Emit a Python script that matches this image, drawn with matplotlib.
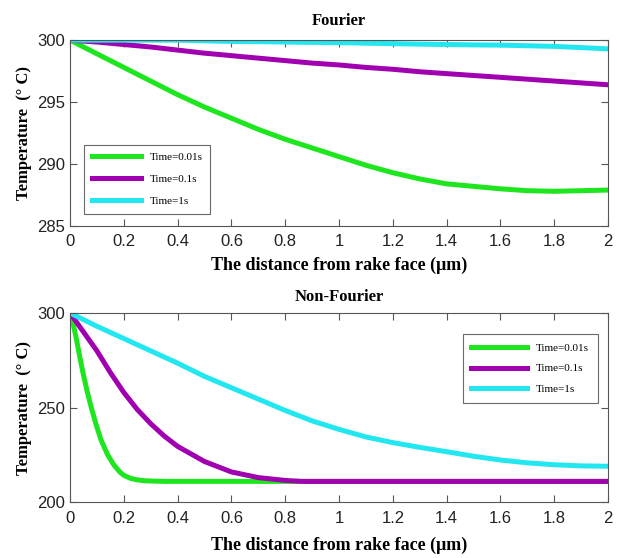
import numpy as np
import matplotlib.pyplot as plt

# Fourier model (top panel)
x_top = [0, 0.1, 0.2, 0.3, 0.4, 0.5, 0.6, 0.7, 0.8, 0.9, 1.0, 1.1, 1.2, 1.3, 1.4, 1.5, 1.6, 1.7, 1.8, 1.9, 2.0]
four_001 = [300, 298.9, 297.8, 296.7, 295.6, 294.6, 293.7, 292.8, 292.0, 291.3, 290.6, 289.9, 289.3, 288.8, 288.4, 288.2, 288.0, 287.85, 287.8, 287.85, 287.9]
four_01 = [300, 299.85, 299.65, 299.45, 299.2, 298.95, 298.75, 298.55, 298.35, 298.15, 298.0, 297.8, 297.65, 297.45, 297.3, 297.15, 297.0, 296.85, 296.7, 296.55, 296.4]
four_1 = [300, 300, 300, 300, 300, 299.95, 299.9, 299.88, 299.85, 299.82, 299.8, 299.76, 299.72, 299.68, 299.65, 299.62, 299.6, 299.55, 299.5, 299.4, 299.3]

# Non-Fourier model (bottom panel)
x_nf_001 = [0, 0.012, 0.024, 0.036, 0.048, 0.063, 0.079, 0.097, 0.115, 0.14, 0.164, 0.185, 0.2, 0.225, 0.25, 0.28, 0.35, 0.5, 1.0, 1.5, 2.0]
nf_001 = [300, 294, 286, 277, 268.5, 259, 250, 241, 233, 225, 219.5, 216, 214.2, 212.6, 211.8, 211.3, 211, 211, 211, 211, 211]
x_nf_01 = [0, 0.05, 0.1, 0.15, 0.2, 0.25, 0.3, 0.35, 0.4, 0.5, 0.6, 0.7, 0.8, 0.86, 1.0, 1.5, 2.0]
nf_01 = [300, 290, 280, 268.5, 258, 249, 241.5, 235, 229.5, 221.5, 216, 213, 211.5, 211, 211, 211, 211]
x_nf_1 = [0, 0.1, 0.2, 0.3, 0.4, 0.5, 0.6, 0.7, 0.8, 0.9, 1.0, 1.1, 1.2, 1.3, 1.4, 1.5, 1.6, 1.7, 1.8, 1.9, 2.0]
nf_1 = [300, 293, 286.5, 280, 273.5, 266.5, 260.5, 254.5, 248.5, 243, 238.5, 234.5, 231.5, 229, 226.7, 224.3, 222.3, 220.8, 219.8, 219.2, 219]

labels = ['Time=0.01s', 'Time=0.1s', 'Time=1s']
colors = ['#1ee61e', '#a000b0', '#22e6f0']

serif = 'Liberation Serif'
plt.rcParams['font.family'] = 'Liberation Sans'

fig = plt.figure(figsize=(6.17, 5.58), dpi=100)
ax1 = fig.add_axes([0.1135, 0.595, 0.872, 0.333])
ax2 = fig.add_axes([0.1135, 0.100, 0.872, 0.339])


def style(ax, title, tpad, xpad):
    ax.set_xlim(0, 2)
    ax.set_xticks(np.arange(0, 2.01, 0.2))
    ax.set_xticklabels(['0', '0.2', '0.4', '0.6', '0.8', '1', '1.2', '1.4', '1.6', '1.8', '2'])
    ax.tick_params(direction='in', top=True, right=True, labelsize=12, length=5, width=0.8,
                   colors='#555555', labelcolor='#222222')
    ax.tick_params(axis='x', pad=6)
    for s in ax.spines.values():
        s.set_color('#555555')
        s.set_linewidth(0.8)
    ax.set_title(title, fontfamily=serif, fontweight='bold', fontsize=12, pad=tpad)
    ax.set_xlabel('The distance from rake face (μm)', fontfamily=serif, fontweight='bold', fontsize=13, labelpad=xpad)
    ax.set_ylabel('Temperature  (° C)', fontfamily=serif, fontweight='bold', fontsize=12, labelpad=4)


ax1.plot(x_top, four_001, color=colors[0], lw=3.6, label=labels[0])
ax1.plot(x_top, four_01, color=colors[1], lw=3.6, label=labels[1])
ax1.plot(x_top, four_1, color=colors[2], lw=3.6, label=labels[2])
ax1.set_ylim(285, 300)
ax1.set_yticks([285, 290, 295, 300])
style(ax1, 'Fourier', 11, 5)
leg1 = ax1.legend(loc='lower left', bbox_to_anchor=(0.026, 0.065), borderaxespad=0,
                  prop={'family': serif, 'size': 8}, frameon=True, fancybox=False,
                  edgecolor='#444444', handlelength=4.4, labelspacing=1.1, borderpad=0.7)
leg1.get_frame().set_linewidth(0.8)

ax2.plot(x_nf_001, nf_001, color=colors[0], lw=3.6, label=labels[0])
ax2.plot(x_nf_01, nf_01, color=colors[1], lw=3.6, label=labels[1])
ax2.plot(x_nf_1, nf_1, color=colors[2], lw=3.6, label=labels[2])
ax2.set_ylim(200, 300)
ax2.set_yticks([200, 250, 300])
style(ax2, 'Non-Fourier', 9, 8)
leg2 = ax2.legend(loc='upper right', bbox_to_anchor=(0.981, 0.89), borderaxespad=0,
                  prop={'family': serif, 'size': 8}, frameon=True, fancybox=False,
                  edgecolor='#444444', handlelength=5.0, labelspacing=1.0, borderpad=0.8)
leg2.get_frame().set_linewidth(0.8)

plt.savefig('out.png', dpi=100)
